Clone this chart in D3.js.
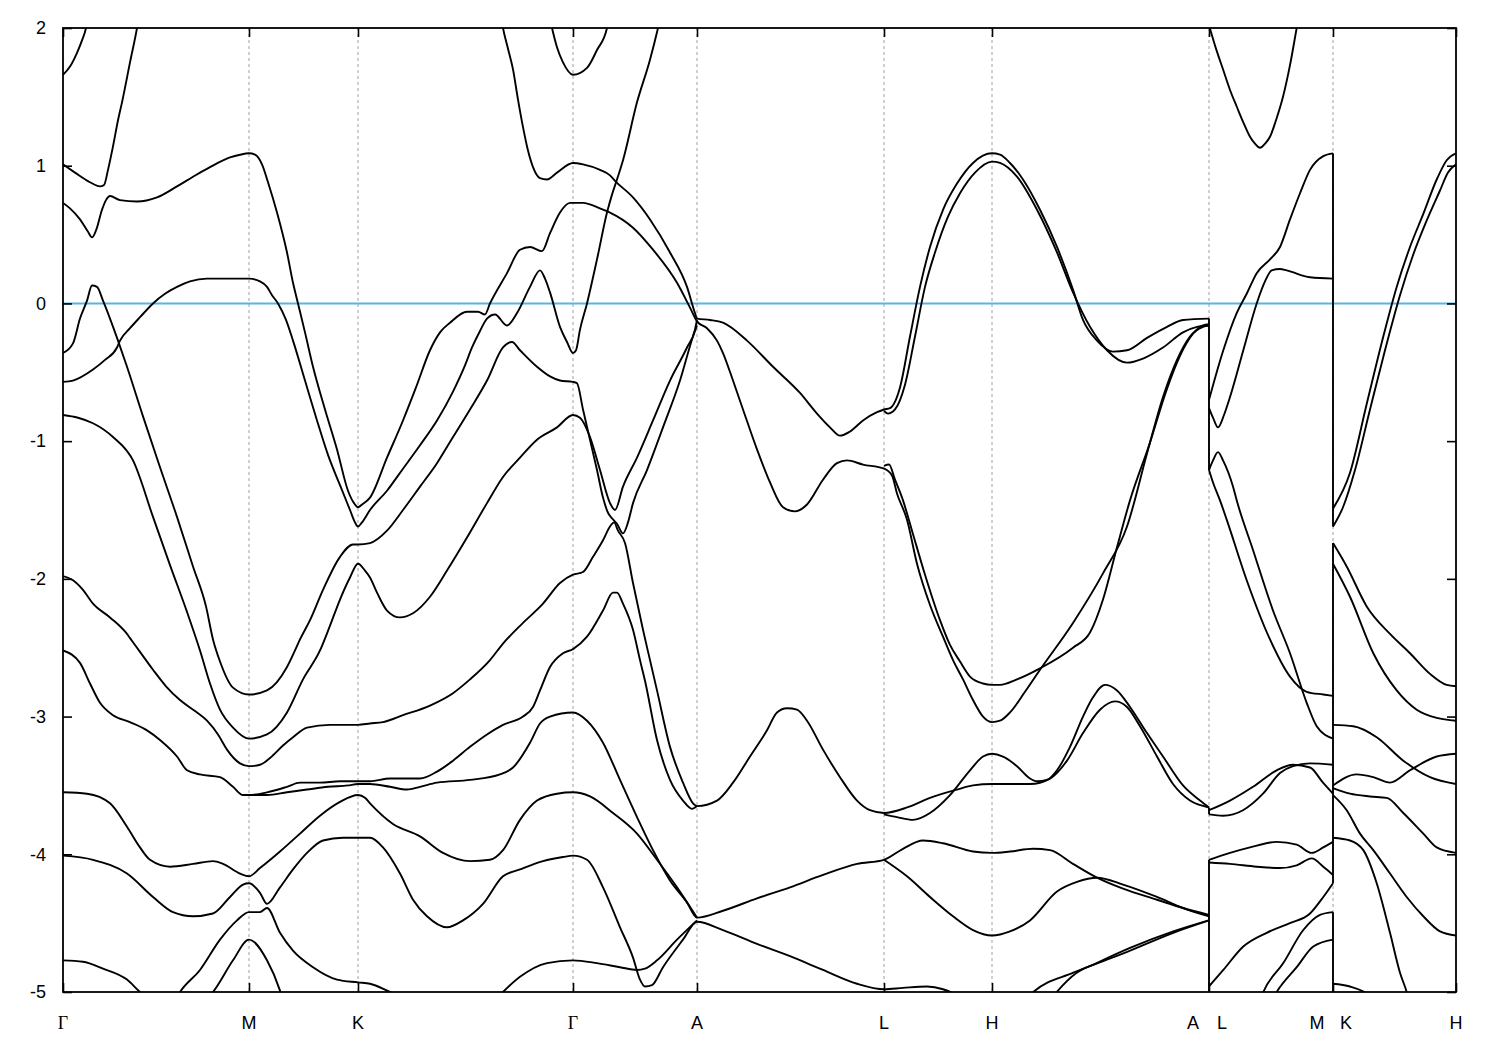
<!DOCTYPE html>
<html><head><meta charset="utf-8">
<script src="https://cdn.jsdelivr.net/npm/d3@7"></script>
<style>body{margin:0;background:#fff}</style>
</head><body>
<svg id="chart" width="1500" height="1050"></svg>
<script>
// ---------- axis data ----------
const kTicks  = [0, 1.86, 2.95, 5.10, 6.34, 8.21, 9.29, 11.46, 12.70, 13.93];
const kLabels = ["Γ","M","K","Γ","A","L","H","A|L","M|K","H"];
const eTicks  = [2, 1, 0, -1, -2, -3, -4, -5];
const eRange  = [-5, 2];
const fermiLevel = 0;

// ---------- band data [k, E(eV)] ----------
const bandC1 = [[0,1.66],[0.07,1.72],[0.14,1.82],[0.19,1.91],[0.23,2.00],[0.26,2.13]];
const bandC2 = [[0,1.01],[0.12,0.95],[0.27,0.88],[0.37,0.85],[0.41,0.86],[0.45,0.97],[0.50,1.14],[0.55,1.33],[0.59,1.46],[0.67,1.75],[0.74,2.00],[0.77,2.13]];
const bandC3 = [[0,0.73],[0.07,0.69],[0.17,0.61],[0.25,0.52],[0.29,0.48],[0.33,0.53],[0.39,0.68],[0.43,0.75],[0.47,0.78],[0.57,0.75],[0.74,0.74],[0.94,0.77],[1.14,0.85],[1.30,0.92],[1.47,0.99],[1.67,1.06],[1.77,1.08],[1.86,1.09],[1.92,1.08],[1.99,1.01],[2.05,0.88],[2.14,0.66],[2.24,0.37],[2.30,0.15],[2.35,0.00],[2.42,-0.21],[2.50,-0.46],[2.62,-0.77],[2.74,-1.06],[2.85,-1.36],[2.91,-1.45],[2.95,-1.48],[2.99,-1.46],[3.07,-1.41],[3.24,-1.12],[3.40,-0.85],[3.53,-0.61],[3.67,-0.34],[3.77,-0.21],[3.87,-0.14],[4.04,-0.06],[4.15,-0.06],[4.22,-0.08],[4.27,0.00],[4.44,0.22],[4.57,0.39],[4.67,0.41],[4.79,0.38],[4.87,0.51],[4.97,0.66],[5.07,0.73],[5.10,0.73],[5.20,0.73],[5.37,0.69],[5.44,0.67],[5.47,0.66],[5.70,0.55],[5.90,0.39],[6.14,0.15],[6.27,-0.03],[6.34,-0.13],[6.44,-0.18],[6.54,-0.27],[6.60,-0.36],[6.70,-0.56],[6.80,-0.77],[6.94,-1.06],[7.07,-1.30],[7.20,-1.48],[7.32,-1.51],[7.44,-1.46],[7.60,-1.28],[7.74,-1.16],[7.84,-1.14],[8.00,-1.17],[8.21,-1.20],[8.29,-1.25],[8.34,-1.38],[8.44,-1.57],[8.54,-1.89],[8.67,-2.19],[8.80,-2.42],[8.90,-2.59],[9.00,-2.73],[9.10,-2.88],[9.20,-3.00],[9.29,-3.04],[9.37,-3.03],[9.47,-2.97],[9.62,-2.82],[9.77,-2.66],[10.10,-2.32],[10.40,-1.96],[10.64,-1.62],[10.84,-1.09],[11.00,-0.68],[11.14,-0.41],[11.27,-0.24],[11.40,-0.17],[11.46,-0.16]];
const bandY = [[4.37,2.13],[4.40,2.00],[4.45,1.85],[4.50,1.70],[4.55,1.48],[4.60,1.28],[4.65,1.11],[4.70,0.99],[4.77,0.91],[4.84,0.90],[4.94,0.95],[5.10,1.02],[5.20,1.01],[5.37,0.97],[5.47,0.93],[5.52,0.89],[5.70,0.77],[5.87,0.61],[6.07,0.37],[6.24,0.12],[6.32,-0.07],[6.34,-0.11],[6.47,-0.12],[6.60,-0.14],[6.84,-0.27],[7.10,-0.46],[7.37,-0.65],[7.54,-0.80],[7.67,-0.90],[7.77,-0.96],[7.87,-0.93],[8.00,-0.85],[8.14,-0.79],[8.21,-0.77],[8.27,-0.76],[8.37,-0.61],[8.47,-0.24],[8.57,0.12],[8.67,0.41],[8.80,0.68],[8.94,0.87],[9.10,1.02],[9.29,1.09],[9.37,1.08],[9.47,1.02],[9.60,0.90],[9.77,0.68],[9.94,0.41],[10.10,0.10],[10.20,-0.12],[10.34,-0.27],[10.50,-0.35],[10.64,-0.34],[10.84,-0.25],[11.04,-0.17],[11.20,-0.12],[11.46,-0.11]];
const bandLH2 = [[8.21,-0.78],[8.25,-0.80],[8.32,-0.77],[8.42,-0.59],[8.52,-0.24],[8.62,0.12],[8.72,0.37],[8.85,0.63],[8.97,0.80],[9.12,0.95],[9.29,1.03],[9.37,1.02],[9.54,0.92],[9.74,0.68],[9.94,0.37],[10.10,0.08],[10.27,-0.17],[10.44,-0.34],[10.64,-0.43],[10.80,-0.40],[11.00,-0.32],[11.20,-0.21],[11.34,-0.17],[11.46,-0.16]];
const bandLH3 = [[8.21,-1.18],[8.26,-1.17],[8.32,-1.28],[8.40,-1.43],[8.49,-1.65],[8.62,-1.97],[8.77,-2.30],[8.87,-2.48],[8.97,-2.60],[9.07,-2.71],[9.20,-2.76],[9.29,-2.77],[9.37,-2.77],[9.54,-2.73],[9.77,-2.65],[10.10,-2.50],[10.27,-2.39],[10.40,-2.15],[10.54,-1.77],[10.67,-1.43],[10.87,-1.01],[11.03,-0.64],[11.17,-0.38],[11.30,-0.22],[11.40,-0.16],[11.46,-0.15]];
const bandOuterU = [[0,-0.81],[0.15,-0.83],[0.30,-0.87],[0.50,-0.97],[0.70,-1.14],[0.90,-1.55],[1.07,-1.90],[1.24,-2.24],[1.37,-2.52],[1.47,-2.76],[1.57,-2.95],[1.70,-3.08],[1.86,-3.16],[2.04,-3.13],[2.24,-2.97],[2.40,-2.73],[2.57,-2.52],[2.67,-2.34],[2.77,-2.15],[2.87,-1.99],[2.95,-1.89],[3.02,-1.94],[3.07,-1.99],[3.14,-2.10],[3.24,-2.23],[3.37,-2.28],[3.50,-2.25],[3.67,-2.13],[3.84,-1.94],[4.04,-1.70],[4.24,-1.45],[4.40,-1.26],[4.57,-1.12],[4.74,-0.99],[4.94,-0.90],[5.10,-0.81],[5.17,-0.83],[5.27,-0.97],[5.37,-1.21],[5.47,-1.45],[5.52,-1.50],[5.60,-1.33],[5.74,-1.12],[5.90,-0.85],[6.07,-0.56],[6.24,-0.32],[6.32,-0.19],[6.34,-0.12]];
const bandInnerU = [[0,-0.36],[0.10,-0.29],[0.17,-0.11],[0.24,0.02],[0.29,0.13],[0.34,0.12],[0.40,0.02],[0.47,-0.11],[0.55,-0.27],[0.64,-0.46],[0.80,-0.82],[0.97,-1.19],[1.14,-1.55],[1.30,-1.91],[1.43,-2.20],[1.50,-2.44],[1.57,-2.60],[1.70,-2.79],[1.86,-2.84],[2.04,-2.81],[2.24,-2.64],[2.32,-2.52],[2.37,-2.44],[2.47,-2.30],[2.60,-2.08],[2.77,-1.84],[2.90,-1.75],[2.95,-1.75],[3.07,-1.74],[3.24,-1.65],[3.40,-1.50],[3.57,-1.33],[3.74,-1.16],[3.90,-0.97],[4.07,-0.77],[4.24,-0.56],[4.40,-0.32],[4.49,-0.28],[4.57,-0.34],[4.74,-0.46],[4.87,-0.53],[4.97,-0.56],[5.10,-0.57],[5.14,-0.58],[5.20,-0.77],[5.27,-0.99],[5.34,-1.21],[5.40,-1.41],[5.45,-1.52],[5.49,-1.56],[5.54,-1.60],[5.60,-1.67],[5.65,-1.59],[5.70,-1.45],[5.84,-1.21],[6.00,-0.90],[6.17,-0.56],[6.30,-0.24],[6.34,-0.16]];
const bandG057 = [[0,-0.57],[0.10,-0.56],[0.30,-0.48],[0.42,-0.41],[0.54,-0.32],[0.57,-0.27],[0.67,-0.18],[0.77,-0.10],[0.90,0.00],[1.02,0.07],[1.14,0.12],[1.27,0.16],[1.44,0.18],[1.67,0.18],[1.86,0.18],[1.97,0.16],[2.04,0.12],[2.09,0.06],[2.15,0.00],[2.23,-0.12],[2.30,-0.27],[2.42,-0.56],[2.54,-0.85],[2.65,-1.10],[2.77,-1.32],[2.87,-1.50],[2.92,-1.59],[2.95,-1.62],[2.99,-1.59],[3.07,-1.50],[3.24,-1.36],[3.40,-1.20],[3.57,-1.03],[3.74,-0.85],[3.90,-0.64],[4.02,-0.45],[4.09,-0.32],[4.17,-0.20],[4.24,-0.11],[4.32,-0.08],[4.44,-0.16],[4.54,-0.07],[4.67,0.12],[4.77,0.24],[4.82,0.18],[4.87,0.08],[4.97,-0.17],[5.04,-0.28],[5.10,-0.36],[5.13,-0.34],[5.17,-0.19],[5.24,0.00],[5.34,0.32],[5.44,0.66],[5.49,0.79],[5.54,0.90],[5.60,1.04],[5.74,1.46],[5.87,1.77],[5.95,2.00],[5.99,2.13]];
const bandG2U = [[4.85,2.13],[4.89,2.00],[4.94,1.86],[5.00,1.75],[5.10,1.66],[5.24,1.71],[5.34,1.84],[5.44,2.00],[5.47,2.13]];
const bandG198 = [[0,-1.98],[0.10,-2.01],[0.20,-2.08],[0.30,-2.18],[0.47,-2.28],[0.64,-2.40],[0.67,-2.43],[0.77,-2.53],[0.90,-2.66],[1.03,-2.78],[1.17,-2.88],[1.32,-2.96],[1.44,-3.03],[1.55,-3.13],[1.64,-3.24],[1.77,-3.34],[1.86,-3.36],[1.97,-3.35],[2.07,-3.30],[2.20,-3.21],[2.30,-3.15],[2.44,-3.08],[2.67,-3.06],[2.95,-3.06],[3.07,-3.05],[3.20,-3.04],[3.40,-2.99],[3.67,-2.92],[3.90,-2.83],[4.07,-2.73],[4.27,-2.59],[4.40,-2.47],[4.60,-2.32],[4.80,-2.18],[4.97,-2.03],[5.10,-1.97],[5.20,-1.95],[5.30,-1.84],[5.40,-1.72],[5.47,-1.62],[5.51,-1.59],[5.55,-1.65],[5.62,-1.74],[5.70,-2.03],[5.80,-2.37],[5.87,-2.59],[5.94,-2.81],[6.07,-3.22],[6.20,-3.48],[6.30,-3.63],[6.34,-3.65],[6.54,-3.61],[6.70,-3.48],[6.87,-3.29],[7.04,-3.10],[7.14,-2.97],[7.24,-2.94],[7.34,-2.95],[7.44,-3.03],[7.60,-3.24],[7.77,-3.44],[7.94,-3.61],[8.07,-3.68],[8.21,-3.70],[8.44,-3.66],[8.67,-3.59],[8.94,-3.53],[9.10,-3.50],[9.29,-3.49],[9.47,-3.49],[9.67,-3.49],[9.87,-3.45],[10.04,-3.32],[10.20,-3.12],[10.37,-2.95],[10.52,-2.89],[10.64,-2.93],[10.77,-3.07],[10.94,-3.29],[11.10,-3.49],[11.27,-3.61],[11.46,-3.66]];
const bandH2 = [[8.21,-3.71],[8.34,-3.73],[8.50,-3.75],[8.67,-3.70],[8.87,-3.57],[9.07,-3.39],[9.20,-3.29],[9.29,-3.27],[9.40,-3.29],[9.54,-3.36],[9.67,-3.45],[9.74,-3.47],[9.84,-3.46],[9.94,-3.39],[10.07,-3.22],[10.20,-3.00],[10.30,-2.86],[10.42,-2.77],[10.54,-2.81],[10.67,-2.93],[10.84,-3.12],[11.00,-3.29],[11.20,-3.50],[11.37,-3.61],[11.46,-3.66]];
const bandG252 = [[0,-2.52],[0.17,-2.61],[0.27,-2.76],[0.37,-2.90],[0.50,-2.99],[0.67,-3.04],[0.84,-3.10],[0.97,-3.17],[1.14,-3.29],[1.24,-3.39],[1.37,-3.42],[1.57,-3.44],[1.70,-3.51],[1.80,-3.57],[1.86,-3.57],[2.04,-3.55],[2.24,-3.51],[2.37,-3.48],[2.57,-3.48],[2.77,-3.47],[2.95,-3.47],[3.07,-3.47],[3.27,-3.45],[3.57,-3.45],[3.74,-3.40],[3.90,-3.32],[4.07,-3.22],[4.24,-3.13],[4.40,-3.06],[4.60,-3.00],[4.70,-2.93],[4.77,-2.81],[4.87,-2.64],[5.00,-2.54],[5.10,-2.51],[5.24,-2.42],[5.40,-2.23],[5.50,-2.10],[5.54,-2.10],[5.60,-2.18],[5.70,-2.37],[5.77,-2.59],[5.82,-2.74],[5.94,-3.17],[6.07,-3.46],[6.20,-3.61],[6.29,-3.67],[6.34,-3.65]];
const bandG298 = [[1.86,-3.57],[2.04,-3.57],[2.24,-3.55],[2.44,-3.53],[2.65,-3.51],[2.85,-3.50],[2.95,-3.49],[3.07,-3.49],[3.27,-3.51],[3.44,-3.53],[3.57,-3.51],[3.74,-3.48],[4.07,-3.46],[4.37,-3.42],[4.50,-3.37],[4.67,-3.19],[4.77,-3.05],[4.87,-3.00],[5.10,-2.97],[5.24,-3.03],[5.40,-3.19],[5.57,-3.46],[5.74,-3.73],[5.90,-3.97],[6.07,-4.19],[6.24,-4.35],[6.34,-4.46],[6.60,-4.41],[6.94,-4.32],[7.27,-4.24],[7.60,-4.15],[7.94,-4.07],[8.21,-4.04],[8.40,-3.96],[8.60,-3.90],[8.80,-3.92],[9.10,-3.98],[9.29,-3.99],[9.47,-3.98],[9.70,-3.96],[9.87,-3.97],[10.10,-4.07],[10.34,-4.17],[10.60,-4.25],[10.94,-4.33],[11.20,-4.39],[11.46,-4.44]];
const bandH4 = [[8.21,-4.04],[8.44,-4.16],[8.67,-4.31],[8.90,-4.45],[9.10,-4.55],[9.29,-4.59],[9.47,-4.56],[9.67,-4.48],[9.94,-4.27],[10.14,-4.20],[10.34,-4.17],[10.60,-4.22],[10.94,-4.31],[11.20,-4.39],[11.46,-4.45]];
const bandG355 = [[0,-3.55],[0.24,-3.56],[0.47,-3.63],[0.64,-3.80],[0.77,-3.95],[0.87,-4.04],[1.07,-4.09],[1.30,-4.07],[1.50,-4.05],[1.60,-4.07],[1.77,-4.14],[1.86,-4.16],[1.97,-4.10],[2.17,-3.98],[2.37,-3.85],[2.57,-3.72],[2.77,-3.62],[2.95,-3.57],[3.02,-3.59],[3.07,-3.63],[3.30,-3.78],[3.57,-3.87],[3.80,-3.99],[4.07,-4.05],[4.27,-4.04],[4.40,-3.97],[4.57,-3.75],[4.74,-3.61],[4.94,-3.56],[5.10,-3.55],[5.27,-3.58],[5.50,-3.70],[5.74,-3.85],[5.94,-4.04],[6.14,-4.24],[6.34,-4.46]];
const bandG402 = [[0,-4.01],[0.30,-4.04],[0.64,-4.14],[0.90,-4.31],[1.10,-4.42],[1.30,-4.45],[1.50,-4.43],[1.67,-4.31],[1.80,-4.22],[1.86,-4.21],[1.97,-4.28],[2.04,-4.36],[2.17,-4.24],[2.30,-4.11],[2.44,-3.99],[2.60,-3.90],[2.80,-3.88],[2.95,-3.88],[3.07,-3.88],[3.20,-3.95],[3.37,-4.14],[3.50,-4.33],[3.64,-4.45],[3.84,-4.53],[4.00,-4.48],[4.20,-4.36],[4.40,-4.16],[4.57,-4.11],[4.80,-4.05],[5.00,-4.02],[5.10,-4.01],[5.24,-4.04],[5.40,-4.24],[5.57,-4.53],[5.70,-4.75],[5.77,-4.91],[5.82,-4.96],[5.89,-4.95],[6.00,-4.82],[6.20,-4.62],[6.34,-4.49],[6.60,-4.55],[6.94,-4.65],[7.27,-4.74],[7.60,-4.84],[7.94,-4.94],[8.21,-4.98],[8.40,-4.97],[8.64,-4.96],[8.80,-4.98],[8.90,-5.01],[8.99,-5.06]];
const bandG477a = [[0,-4.77],[0.20,-4.78],[0.40,-4.83],[0.64,-4.91],[0.77,-5.00],[0.87,-5.06]];
const bandG477b = [[4.32,-5.06],[4.40,-5.00],[4.57,-4.89],[4.84,-4.79],[5.10,-4.77],[5.34,-4.79],[5.57,-4.82],[5.74,-4.84],[5.82,-4.83],[5.94,-4.77],[6.14,-4.62],[6.34,-4.48]];
const bandM440 = [[1.12,-5.06],[1.17,-5.00],[1.37,-4.84],[1.57,-4.62],[1.74,-4.48],[1.86,-4.42],[1.97,-4.42],[2.04,-4.39],[2.17,-4.57],[2.30,-4.70],[2.50,-4.82],[2.74,-4.91],[2.95,-4.93],[3.07,-4.94],[3.27,-5.00],[3.37,-5.03],[3.47,-5.08]];
const bandM460 = [[1.42,-5.06],[1.50,-5.00],[1.70,-4.77],[1.86,-4.62],[2.04,-4.77],[2.17,-4.99],[2.20,-5.06]];
const bandHA1 = [[9.62,-5.06],[9.703,-5.00],[10.103,-4.86],[10.603,-4.72],[11.103,-4.57],[11.46,-4.48]];
const bandHA2 = [[9.87,-5.06],[9.937,-5.00],[10.137,-4.86],[10.337,-4.79],[10.67,-4.68],[11.103,-4.56],[11.46,-4.48]];
// L - M
const bandS2a = [[11.46,2.02],[11.53,1.85],[11.60,1.70],[11.67,1.55],[11.737,1.43],[11.80,1.32],[11.87,1.21],[11.92,1.16],[11.97,1.13],[12.02,1.16],[12.07,1.21],[12.13,1.33],[12.20,1.50],[12.27,1.73],[12.337,2.00],[12.36,2.09]];
const bandS2b = [[11.46,-0.76],[11.50,-0.83],[11.55,-0.90],[11.61,-0.81],[11.67,-0.68],[11.803,-0.34],[11.937,0.00],[12.02,0.16],[12.087,0.24],[12.17,0.25],[12.237,0.24],[12.47,0.19],[12.70,0.18]];
const bandS2c = [[11.46,-0.70],[11.603,-0.34],[11.737,-0.07],[11.837,0.07],[11.937,0.22],[12.07,0.32],[12.17,0.41],[12.27,0.61],[12.37,0.80],[12.47,0.97],[12.603,1.07],[12.70,1.09]];
const bandS2d = [[11.46,-1.21],[11.50,-1.30],[11.57,-1.43],[11.637,-1.57],[11.837,-2.01],[12.07,-2.44],[12.27,-2.71],[12.437,-2.82],[12.603,-2.84],[12.70,-2.85]];
const bandS2e = [[11.46,-1.21],[11.50,-1.14],[11.55,-1.08],[11.60,-1.14],[11.70,-1.33],[11.737,-1.43],[11.90,-1.79],[12.10,-2.23],[12.27,-2.54],[12.437,-2.90],[12.537,-3.07],[12.70,-3.16]];
const bandS2f = [[11.46,-3.68],[11.67,-3.61],[11.90,-3.51],[12.137,-3.39],[12.30,-3.35],[12.47,-3.37],[12.60,-3.48],[12.70,-3.56]];
const bandS2g = [[11.46,-3.71],[11.60,-3.72],[11.80,-3.68],[12.00,-3.56],[12.17,-3.41],[12.30,-3.36],[12.47,-3.34],[12.70,-3.35]];
const bandS2h = [[11.46,-4.04],[11.67,-3.99],[11.87,-3.95],[12.137,-3.91],[12.337,-3.93],[12.487,-3.99],[12.603,-3.95],[12.70,-3.91]];
const bandS2i = [[11.46,-4.06],[11.67,-4.07],[11.937,-4.09],[12.17,-4.10],[12.337,-4.08],[12.487,-4.03],[12.603,-4.09],[12.70,-4.15]];
const bandS2j = [[11.46,-4.96],[11.603,-4.84],[11.803,-4.67],[12.037,-4.57],[12.27,-4.50],[12.47,-4.43],[12.603,-4.31],[12.70,-4.21]];
const bandS2k = [[11.97,-5.06],[12.003,-5.00],[12.203,-4.79],[12.403,-4.55],[12.57,-4.44],[12.70,-4.42]];
const bandS2l = [[12.09,-5.06],[12.137,-5.00],[12.337,-4.82],[12.503,-4.67],[12.70,-4.62]];
// K - H
const bandS3a = [[12.70,-1.49],[12.87,-1.23],[13.037,-0.73],[13.203,-0.24],[13.337,0.12],[13.47,0.41],[13.603,0.65],[13.737,0.90],[13.837,1.04],[13.93,1.09]];
const bandS3b = [[12.70,-1.62],[12.80,-1.48],[12.92,-1.21],[13.07,-0.77],[13.22,-0.34],[13.37,0.06],[13.50,0.35],[13.63,0.59],[13.77,0.82],[13.85,0.95],[13.93,1.01]];
const bandS3c = [[12.70,-1.74],[12.837,-1.91],[13.037,-2.20],[13.27,-2.40],[13.47,-2.54],[13.67,-2.69],[13.837,-2.77],[13.93,-2.78]];
const bandS3d = [[12.70,-1.89],[12.87,-2.13],[13.103,-2.54],[13.337,-2.81],[13.537,-2.95],[13.737,-3.01],[13.93,-3.03]];
const bandS3e = [[12.70,-3.06],[12.903,-3.07],[13.137,-3.15],[13.403,-3.32],[13.67,-3.44],[13.93,-3.49]];
const bandS3f = [[12.70,-3.50],[12.937,-3.42],[13.103,-3.44],[13.27,-3.48],[13.47,-3.39],[13.737,-3.29],[13.93,-3.27]];
const bandS3g = [[12.70,-3.52],[12.87,-3.56],[13.07,-3.58],[13.237,-3.59],[13.403,-3.70],[13.603,-3.85],[13.737,-3.95],[13.93,-3.99]];
const bandS3h = [[12.70,-3.57],[12.837,-3.68],[12.97,-3.85],[13.103,-3.97],[13.27,-4.14],[13.437,-4.31],[13.603,-4.45],[13.77,-4.56],[13.93,-4.59]];
const bandS3i = [[12.70,-3.88],[12.87,-3.90],[13.003,-3.97],[13.137,-4.21],[13.27,-4.57],[13.37,-4.86],[13.437,-5.00],[13.46,-5.06]];
const bandS3j = [[12.70,-4.94],[12.87,-4.96],[13.037,-5.01],[13.12,-5.06]];

// vertical connections at the path breaks [k, E1, E2]
const jumps = [[11.46,-0.11,-1.21],[11.46,-3.66,-3.71],[11.46,-4.04,-5.06],[12.70,1.09,-1.62],[12.70,-1.74,-4.21],[12.70,-4.42,-5.06]];

const bands = [bandC1,bandC2,bandC3,bandY,bandLH2,bandLH3,bandOuterU,bandInnerU,bandG057,bandG2U,bandG198,bandH2,bandG252,bandG298,bandH4,bandG355,bandG402,bandG477a,bandG477b,bandM440,bandM460,bandHA1,bandHA2,
  bandS2a,bandS2b,bandS2c,bandS2d,bandS2e,bandS2f,bandS2g,bandS2h,bandS2i,bandS2j,bandS2k,bandS2l,
  bandS3a,bandS3b,bandS3c,bandS3d,bandS3e,bandS3f,bandS3g,bandS3h,bandS3i,bandS3j];

// ---------- drawing ----------
const L = 63, R = 1456, T = 28, B = 992;
const x = d3.scaleLinear().domain([kTicks[0], kTicks[kTicks.length-1]]).range([L, R]);
const y = d3.scaleLinear().domain(eRange).range([B, T]);
const svg = d3.select("#chart");
svg.append("rect").attr("width",1500).attr("height",1050).attr("fill","#fff");
svg.append("clipPath").attr("id","plotclip").append("rect")
  .attr("x",L).attr("y",T).attr("width",R-L).attr("height",B-T);

// grid
svg.append("g").selectAll("line").data(kTicks.slice(1,-1)).join("line")
  .attr("x1",d=>x(d)).attr("x2",d=>x(d)).attr("y1",T).attr("y2",B)
  .attr("stroke","#a0a0a0").attr("stroke-width",1).attr("stroke-dasharray","3,3");

// Fermi level
svg.append("line").attr("x1",L).attr("x2",R).attr("y1",y(fermiLevel)).attr("y2",y(fermiLevel))
  .attr("stroke","#56b4e9").attr("stroke-width",2);

const plot = svg.append("g").attr("clip-path","url(#plotclip)");
const line = d3.line().x(d=>x(d[0])).y(d=>y(d[1])).curve(d3.curveMonotoneX);
plot.selectAll("path.band").data(bands).join("path").attr("class","band")
  .attr("d",line).attr("fill","none").attr("stroke","#000").attr("stroke-width",1.9).attr("stroke-linejoin","round");
plot.selectAll("line.jump").data(jumps).join("line").attr("class","jump")
  .attr("x1",d=>x(d[0])).attr("x2",d=>x(d[0])).attr("y1",d=>y(d[1])).attr("y2",d=>y(d[2]))
  .attr("stroke","#000").attr("stroke-width",1.9);

// axes (ticks inward)
const font = "'Liberation Sans', Arial, sans-serif";
const yAxisL = d3.axisLeft(y).tickValues(eTicks).tickSizeInner(-9).tickSizeOuter(0).tickPadding(17).tickFormat(d3.format("d"));
const gL = svg.append("g").attr("transform",`translate(${L},0)`).call(yAxisL);
gL.select(".domain").remove();
gL.selectAll("line").attr("stroke","#000").attr("stroke-width",1.6);
gL.selectAll("text").attr("font-family",font).attr("font-size",18).attr("fill","#000").text(d=>d<0? "-"+Math.abs(d) : d);

const yAxisR = d3.axisRight(y).tickValues(eTicks).tickSizeInner(-9).tickSizeOuter(0).tickFormat("");
const gR = svg.append("g").attr("transform",`translate(${R},0)`).call(yAxisR);
gR.select(".domain").remove();
gR.selectAll("line").attr("stroke","#000").attr("stroke-width",1.6);

const xAxisB = d3.axisBottom(x).tickValues(kTicks).tickSizeInner(-9).tickSizeOuter(0).tickFormat("");
const gB = svg.append("g").attr("transform",`translate(0,${B})`).call(xAxisB);
gB.select(".domain").remove();
gB.selectAll("line").attr("stroke","#000").attr("stroke-width",1.6);
const xAxisT = d3.axisTop(x).tickValues(kTicks).tickSizeInner(-9).tickSizeOuter(0).tickFormat("");
const gT = svg.append("g").attr("transform",`translate(0,${T})`).call(xAxisT);
gT.select(".domain").remove();
gT.selectAll("line").attr("stroke","#000").attr("stroke-width",1.6);

// border
svg.append("rect").attr("x",L).attr("y",T).attr("width",R-L).attr("height",B-T)
  .attr("fill","none").attr("stroke","#000").attr("stroke-width",1.8);

// k-point labels
const labelData = [];
kTicks.forEach((k,i)=>{
  const parts = kLabels[i].split("|");
  if (parts.length===1) labelData.push({x:x(k), t:parts[0]});
  else { labelData.push({x:x(k)-16, t:parts[0]}); labelData.push({x:x(k)+13, t:parts[1]}); }
});
svg.append("g").selectAll("text").data(labelData).join("text")
  .attr("x",d=>d.x).attr("y",1029).attr("text-anchor","middle")
  .attr("font-family",d=>d.t==="Γ" ? "'Liberation Serif','DejaVu Serif',serif" : font)
  .attr("font-size",18).attr("fill","#000").text(d=>d.t);
</script>
</body></html>
